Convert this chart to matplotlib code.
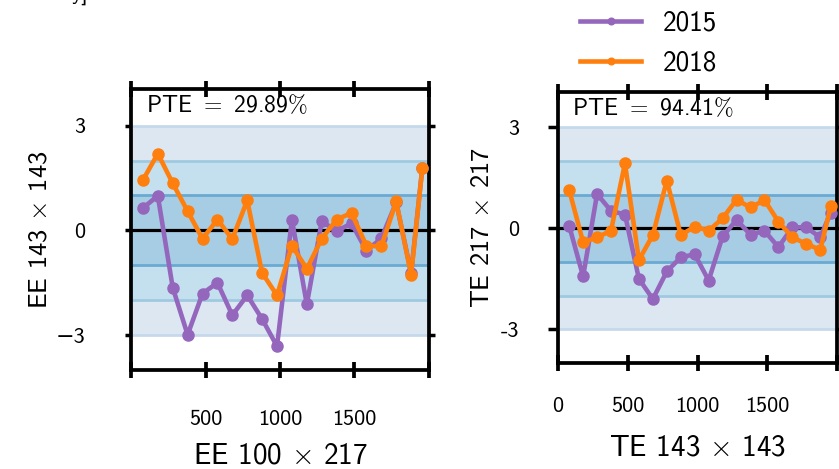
import numpy as np
import matplotlib
matplotlib.use("Agg")
import matplotlib.pyplot as plt

plt.rcParams['font.family'] = ['cmss10', 'DejaVu Sans']
plt.rcParams['mathtext.fontset'] = 'cm'
plt.rcParams['axes.formatter.use_mathtext'] = True

# binned multipole centres
ell = [80, 180, 280, 380, 480, 580, 680, 780, 880, 980,
       1080, 1180, 1280, 1380, 1480, 1580, 1680, 1780, 1880, 1955]

# EE 100x217 residuals (sigma units)
ee_2015 = [0.64, 0.99, -1.64, -2.99, -1.81, -1.50, -2.43, -1.86, -2.54, -3.32,
           0.31, -2.12, 0.26, -0.02, 0.20, -0.58, -0.23, 0.80, -1.22, 1.78]
ee_2018 = [1.44, 2.20, 1.35, 0.55, -0.24, 0.31, -0.25, 0.86, -1.22, -1.86,
           -0.44, -1.10, -0.24, 0.31, 0.50, -0.44, -0.46, 0.83, -1.27, 1.78]

# TE 143x143 residuals (sigma units)
te_2015 = [0.08, -1.43, 1.02, 0.52, 0.41, -1.50, -2.10, -1.28, -0.86, -0.77,
           -1.55, -0.24, 0.25, -0.19, -0.07, -0.56, 0.03, 0.03, -0.27, 0.47]
te_2018 = [1.14, -0.41, -0.27, -0.07, 1.93, -0.94, -0.20, 1.42, -0.20, 0.05,
           -0.07, 0.30, 0.85, 0.62, 0.84, 0.20, -0.27, -0.46, -0.64, 0.65]

pte = ['29.89', '94.41']
xlabels = [r'EE 100 $\times$ 217', r'TE 143 $\times$ 143']
ylabels = [r'EE 143 $\times$ 143', r'TE 217 $\times$ 217']

band_fill = ['#dce7f2', '#c4dfee', '#a6cde4']
band_edge = ['#c5d9ec', '#9fc9e0', '#6aaad2']

fig = plt.figure(figsize=(8.39, 4.69), dpi=100)
ax1 = fig.add_axes([131/839, 1 - 370/469, 298/839, 281/469])
ax2 = fig.add_axes([558/839, 1 - 363/469, 279/839, 271/469])

panels = [(ax1, ee_2015, ee_2018), (ax2, te_2015, te_2018)]
for i, (ax, y15, y18) in enumerate(panels):
    # 1, 2, 3 sigma bands
    for k, s in enumerate([3, 2, 1]):
        ax.axhspan(-s, s, color=band_fill[k], lw=0, zorder=0)
        ax.axhline(s, color=band_edge[k], lw=2, zorder=1)
        ax.axhline(-s, color=band_edge[k], lw=2, zorder=1)
    ax.axhline(0, color='black', lw=2.3, zorder=2)

    ax.plot(ell, y15, '-o', color='#9467bd', lw=3.3, ms=8, label='2015', zorder=3)
    ax.plot(ell, y18, '-o', color='#ff7f0e', lw=3.3, ms=8, label='2018', zorder=4)

    ax.set_xlim(0, 2000)
    ax.set_ylim(-4, 4.05)
    ax.set_yticks([-3, 0, 3])
    ax.set_xticks([0, 500, 1000, 1500, 2000])
    for sp in ax.spines.values():
        sp.set_linewidth(2.7)
    ax.tick_params(axis='x', which='major', direction='inout', length=11, width=2.7,
                   top=True, labelsize=16)
    ax.tick_params(axis='y', direction='out', width=2.5, right=True, labelsize=16)
    ax.text(0.05, 0.985, r'PTE $=$ ' + pte[i] + r'$\%$', transform=ax.transAxes,
            fontsize=17, va='top', ha='left')
    ax.set_xlabel(xlabels[i], fontsize=21, labelpad=13)
    ax.set_ylabel(ylabels[i], fontsize=19, labelpad=5)

ax1.set_xticklabels(['', '500', '1000', '1500', ''])
ax1.set_yticklabels(['\u22123', '0', '3'])
ax1.tick_params(axis='x', pad=23)
ax1.tick_params(axis='y', length=4, pad=29)
ax1.xaxis.labelpad = 10
ax1.yaxis.labelpad = 3

ax2.set_xticklabels(['0', '500', '1000', '1500', ''])
ax2.set_yticklabels(['-3', '0', '3'])
ax2.tick_params(axis='x', pad=19)
ax2.tick_params(axis='y', length=7, pad=21)

handles, labels = ax1.get_legend_handles_labels()
leg = fig.legend(handles, labels, loc='upper left', bbox_to_anchor=(556/839, 1.03),
                 frameon=False, fontsize=19.5, handlelength=2.25, handletextpad=0.78,
                 markerscale=0.6, labelspacing=0.55)

# clipped unit label above the panels
fig.text(0.085, 1.0, 'y]', fontsize=16, va='baseline')

fig.savefig('out.png', dpi=100)
